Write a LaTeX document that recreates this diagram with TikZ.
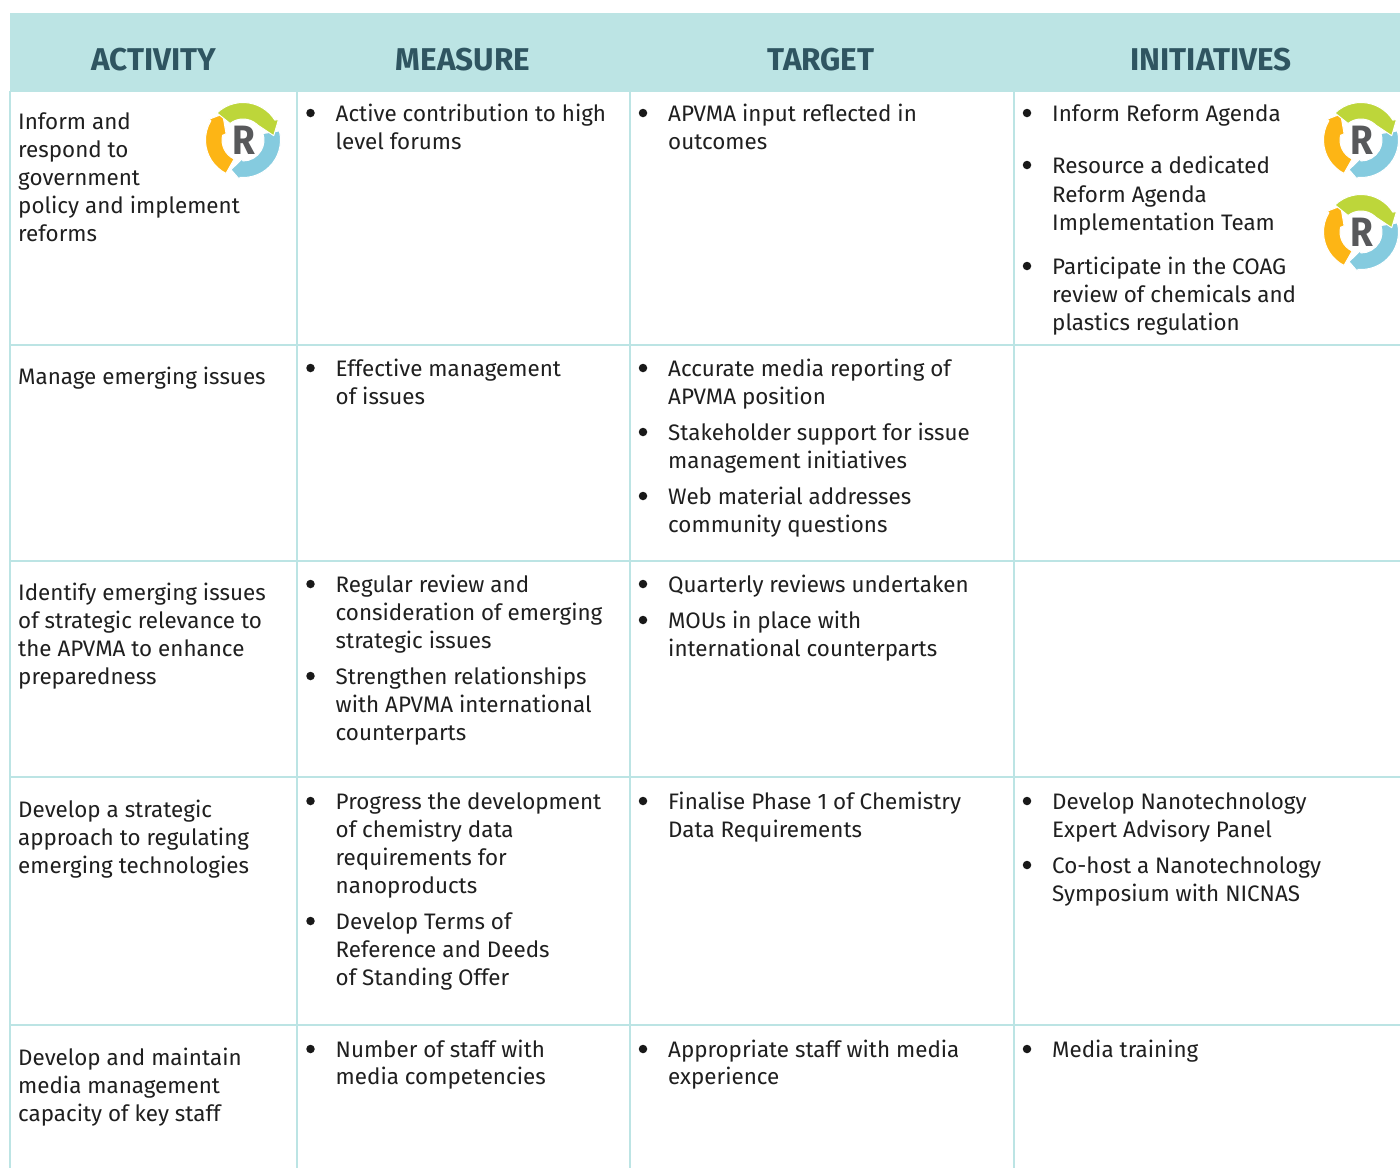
\documentclass[tikz,border=0pt]{standalone}
\usepackage{fontspec}
\setmainfont{Fira Sans}
\newfontfamily\headfont{Fira Sans}
\definecolor{rule}{HTML}{BCE4E4}
\definecolor{headtext}{HTML}{2F5561}
\definecolor{rgreen}{HTML}{BDD63A}
\definecolor{rblue}{HTML}{85CBDF}
\definecolor{rorange}{HTML}{FDB515}
\definecolor{rgrey}{HTML}{58595B}
\tikzset{
  cell/.style={anchor=north west,inner sep=0pt,align=left,text=black!88,font=\fontsize{22.4}{28}\selectfont},
  head/.style={anchor=base,inner sep=0pt,text=headtext,font=\headfont\bfseries\fontsize{31.5}{32}\selectfont},
  bul/.style={circle,fill=black!90,inner sep=0pt,minimum size=8.5pt},
  grid/.style={draw=rule,line width=2pt},
  rletter/.style={inner sep=0pt,text=rgrey,xscale=.9,transform shape,font=\bfseries\fontsize{41}{41}\selectfont},
  rarrow/.style={draw=white,line width=1pt,line join=round}
}
\newcommand{\CellAt}[4]{\node[cell] (#1) at (#2,#3-20) {\rule{0pt}{20pt}#4};}
\newcommand{\Bullet}[4]{\node[bul] (b#1) at (#2-25,#3-8) {}; \node[cell] (#1) at (#2,#3-20) {\rule{0pt}{20pt}#4};}
\newcommand{\RIcon}[3]{%
\begin{scope}[shift={(#2,#3)},x=1pt,y=1pt]
 \filldraw[rarrow,fill=rblue] (14:37.5) arc (14:-95:37.5) -- (-93:41) -- (-112:32) -- (-93:19) -- (-90:21) arc (-90:18:21) -- cycle;
 \filldraw[rarrow,fill=rorange] (-117:37.5) arc (-117:-211:37.5) -- (149:40) -- (128:33) -- (160:18) -- (167:21) arc (167:245:21) -- cycle;
 \filldraw[rarrow,fill=rgreen] (134:37.5) arc (134:32:37.5) -- (30:41) -- (8:31) -- (45:21) -- (50:21) arc (50:128:21) -- cycle;
 \node[rletter] (#1) at (0.5,0) {R};
\end{scope}}
\begin{document}
\begin{tikzpicture}[x=1pt,y=-1pt]
\useasboundingbox (0,0) rectangle (1400,1168);
\fill[white] (0,0) rectangle (1400,1168);
\fill[rule] (10,13) rectangle (1400,91);
\foreach \x in {10,297,630,1014} \draw[grid] (\x,91) -- (\x,1168);
\foreach \y in {91,345,561,777,1025} \draw[grid] (10,\y) -- (1400,\y);
\node[head] (h1) at (154,70.5) {ACTIVITY};
\node[head] (h2) at (463,70.5) {MEASURE};
\node[head] (h3) at (821,70.5) {TARGET};
\node[head] (h4) at (1211,70.5) {INITIATIVES};
% activity
\CellAt{a1}{18}{129}{Inform and\\respond to\\government\\policy and implement\\reforms}
\CellAt{a2}{18}{384}{Manage emerging issues}
\CellAt{a3}{18}{600}{Identify emerging issues\\of strategic relevance to\\the APVMA to enhance\\preparedness}
\CellAt{a4}{18}{817}{Develop a strategic\\approach to regulating\\emerging technologies}
\CellAt{a5}{18}{1065}{Develop and maintain\\media management\\capacity of key staff}
% measure
\Bullet{m1}{335.5}{121}{Active contribution to high\\level forums}
\Bullet{m2}{335.5}{376}{Effective management\\of issues}
\Bullet{m3}{335.5}{592}{Regular review and\\consideration of emerging\\strategic issues}
\Bullet{m4}{335.5}{684}{Strengthen relationships\\with APVMA international\\counterparts}
\Bullet{m5}{335.5}{809}{Progress the development\\of chemistry data\\requirements for\\nanoproducts}
\Bullet{m6}{335.5}{929}{Develop Terms of\\Reference and Deeds\\of Standing Offer}
\Bullet{m7}{335.5}{1057}{Number of staff with\\[-1pt]media competencies}
% target
\Bullet{t1}{668}{121}{APVMA input reflected in\\outcomes}
\Bullet{t2}{668}{376}{Accurate media reporting of\\APVMA position}
\Bullet{t3}{668}{440}{Stakeholder support for issue\\management initiatives}
\Bullet{t4}{668}{504}{Web material addresses\\community questions}
\Bullet{t5}{668}{592}{Quarterly reviews undertaken}
\Bullet{t6}{668}{628}{MOUs in place with\\international counterparts}
\Bullet{t7}{668}{809}{Finalise Phase 1 of Chemistry\\Data Requirements}
\Bullet{t8}{668}{1057}{Appropriate staff with media\\[-1pt]experience}
% initiatives
\Bullet{i1}{1052}{121}{Inform Reform Agenda}
\Bullet{i2}{1052}{173}{Resource a dedicated\\[1pt]Reform Agenda\\Implementation Team}
\Bullet{i3}{1052}{274}{Participate in the COAG\\review of chemicals and\\plastics regulation}
\Bullet{i4}{1052}{809}{Develop Nanotechnology\\Expert Advisory Panel}
\Bullet{i5}{1052}{873}{Co-host a Nanotechnology\\Symposium with NICNAS}
\Bullet{i6}{1052}{1057}{Media training}
\RIcon{r1}{243}{140}
\RIcon{r2}{1361}{140}
\RIcon{r3}{1361}{232}
\end{tikzpicture}
\end{document}
